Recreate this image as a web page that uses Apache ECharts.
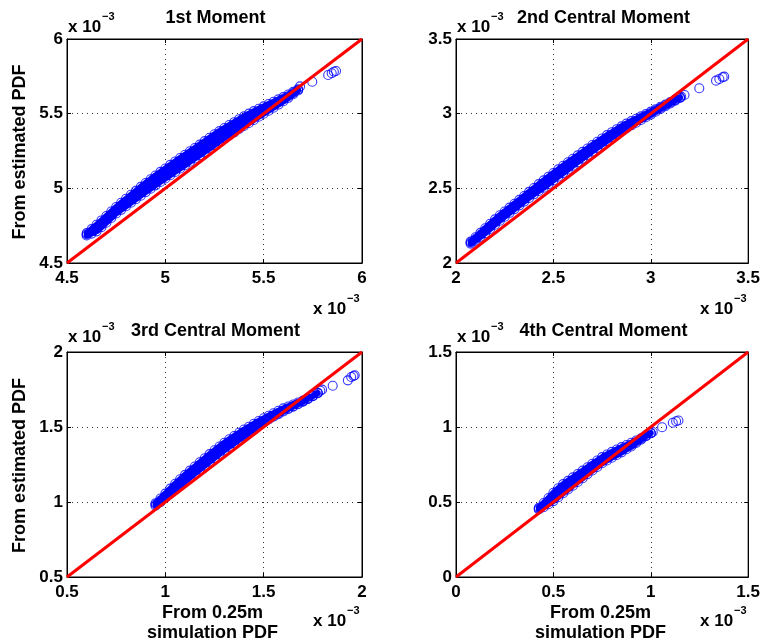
<!DOCTYPE html>
<html>
<head>
<meta charset="utf-8">
<script src="https://cdn.jsdelivr.net/npm/echarts@6/dist/echarts.min.js"></script>
<style>
  html, body { margin: 0; padding: 0; background: #fff; }
  #chart { width: 763px; height: 643px; }
</style>
</head>
<body>
<div id="chart"></div>
<script>
// Moment estimates, all in units of 1e-3 (hence the "x 10^-3" multipliers).
// x = moment from the 0.25m simulation PDF, y = moment from the estimated PDF.
// Each dense cloud is stored as its upper, middle and lower rows at common x stations,
// plus the few isolated points past the end of the cloud.

const panelTitles = ['1st Moment', '2nd Central Moment', '3rd Central Moment', '4th Central Moment'];
const axisRanges = [[4.5, 6], [2, 3.5], [0.5, 2], [0, 1.5]];
const tickStep = 0.5;

// ---- 1st moment ----
const m1X = [4.600,4.625,4.650,4.675,4.700,4.725,4.750,4.775,4.800,4.825,4.850,4.875,4.900,4.925,4.950,4.975,5.000,5.025,5.050,5.075,5.100,5.125,5.150,5.175,5.200,5.225,5.250,5.275,5.300,5.325,5.350,5.375,5.400,5.425,5.450,5.475,5.500,5.525,5.550,5.575,5.600,5.625,5.650,5.675];
const m1Top = [4.700,4.727,4.756,4.785,4.815,4.845,4.875,4.903,4.930,4.957,4.983,5.010,5.036,5.061,5.086,5.110,5.133,5.157,5.180,5.203,5.225,5.248,5.270,5.293,5.316,5.339,5.362,5.383,5.404,5.424,5.443,5.463,5.482,5.500,5.517,5.533,5.549,5.565,5.580,5.596,5.611,5.628,5.646,5.664];
const m1Mid = [4.692,4.711,4.731,4.759,4.788,4.818,4.849,4.875,4.900,4.926,4.950,4.976,5.000,5.025,5.048,5.072,5.095,5.118,5.140,5.163,5.185,5.208,5.230,5.253,5.275,5.298,5.321,5.343,5.365,5.385,5.404,5.425,5.445,5.465,5.484,5.503,5.522,5.540,5.558,5.577,5.596,5.617,5.638,5.660];
const m1Bot = [4.684,4.697,4.712,4.740,4.770,4.801,4.832,4.856,4.880,4.904,4.927,4.951,4.975,4.998,5.020,5.043,5.066,5.088,5.110,5.133,5.155,5.178,5.200,5.222,5.244,5.267,5.290,5.313,5.336,5.356,5.375,5.397,5.418,5.438,5.458,5.479,5.500,5.520,5.540,5.561,5.583,5.606,5.630,5.655];
const m1Tail = [[5.685,5.683],[5.747,5.714],[5.828,5.759],[5.846,5.771],[5.857,5.781],[5.868,5.786]];

// ---- 2nd central moment ----
const m2X = [2.075,2.100,2.125,2.150,2.175,2.200,2.225,2.250,2.275,2.300,2.325,2.350,2.375,2.400,2.425,2.450,2.475,2.500,2.525,2.550,2.575,2.600,2.625,2.650,2.675,2.700,2.725,2.750,2.775,2.800,2.825,2.850,2.875,2.900,2.925,2.950,2.975,3.000,3.025,3.050,3.075,3.100,3.125,3.150];
const m2Top = [2.143,2.172,2.202,2.233,2.263,2.292,2.320,2.345,2.371,2.397,2.423,2.449,2.476,2.502,2.528,2.553,2.578,2.603,2.627,2.651,2.675,2.698,2.721,2.744,2.767,2.790,2.812,2.834,2.856,2.876,2.896,2.915,2.933,2.950,2.966,2.982,2.998,3.014,3.030,3.046,3.061,3.078,3.095,3.110];
const m2Mid = [2.137,2.161,2.189,2.217,2.246,2.274,2.302,2.328,2.354,2.379,2.405,2.430,2.456,2.481,2.505,2.529,2.553,2.578,2.603,2.627,2.651,2.675,2.698,2.722,2.745,2.769,2.792,2.814,2.837,2.858,2.879,2.900,2.918,2.936,2.953,2.970,2.987,3.004,3.022,3.039,3.056,3.073,3.091,3.108];
const m2Bot = [2.130,2.150,2.175,2.200,2.228,2.256,2.283,2.310,2.336,2.361,2.386,2.411,2.436,2.460,2.482,2.504,2.528,2.553,2.578,2.602,2.626,2.651,2.675,2.699,2.723,2.747,2.771,2.794,2.817,2.840,2.862,2.884,2.903,2.922,2.940,2.958,2.976,2.994,3.013,3.032,3.050,3.068,3.087,3.105];
const m2Tail = [[3.156,3.114],[3.173,3.125],[3.249,3.170],[3.335,3.221],[3.352,3.232],[3.369,3.244],[3.377,3.248]];

// ---- 3rd central moment ----
const m3X = [0.950,0.975,1.000,1.025,1.050,1.075,1.100,1.125,1.150,1.175,1.200,1.225,1.250,1.275,1.300,1.325,1.350,1.375,1.400,1.425,1.450,1.475,1.500,1.525,1.550,1.575,1.600,1.625,1.650,1.675,1.700,1.725,1.750,1.775];
const m3Top = [0.992,1.023,1.056,1.089,1.122,1.152,1.181,1.209,1.237,1.265,1.292,1.319,1.345,1.370,1.395,1.418,1.440,1.462,1.483,1.502,1.522,1.540,1.558,1.575,1.592,1.608,1.624,1.637,1.650,1.663,1.676,1.691,1.708,1.728];
const m3Mid = [0.984,1.009,1.039,1.068,1.096,1.124,1.152,1.180,1.208,1.235,1.261,1.288,1.314,1.339,1.364,1.388,1.410,1.432,1.454,1.475,1.496,1.518,1.538,1.557,1.574,1.591,1.608,1.624,1.639,1.655,1.671,1.688,1.707,1.727];
const m3Bot = [0.975,0.998,1.028,1.056,1.082,1.108,1.135,1.163,1.190,1.216,1.242,1.268,1.294,1.320,1.345,1.369,1.391,1.414,1.437,1.460,1.482,1.508,1.530,1.550,1.568,1.585,1.603,1.620,1.636,1.652,1.669,1.687,1.706,1.726];
const m3Tail = [[1.788,1.742],[1.797,1.749],[1.851,1.775],[1.928,1.811],[1.945,1.833],[1.957,1.840],[1.963,1.845]];

// ---- 4th central moment ----
const m4X = [0.425,0.450,0.475,0.500,0.525,0.550,0.575,0.600,0.625,0.650,0.675,0.700,0.725,0.750,0.775,0.800,0.825,0.850,0.875,0.900,0.925,0.950,0.975,1.000];
const m4Top = [0.462,0.493,0.527,0.562,0.592,0.619,0.641,0.664,0.687,0.709,0.732,0.755,0.777,0.799,0.817,0.834,0.850,0.866,0.880,0.895,0.910,0.925,0.943,0.960];
const m4Mid = [0.456,0.478,0.503,0.530,0.558,0.584,0.608,0.632,0.656,0.679,0.705,0.728,0.751,0.774,0.793,0.810,0.827,0.844,0.863,0.880,0.900,0.920,0.941,0.959];
const m4Bot = [0.450,0.465,0.485,0.506,0.532,0.558,0.583,0.609,0.634,0.658,0.686,0.710,0.734,0.758,0.777,0.795,0.813,0.831,0.852,0.870,0.893,0.915,0.938,0.958];
const m4Tail = [[1.010,0.967],[1.058,0.998],[1.113,1.028],[1.130,1.038],[1.142,1.043]];

const panels = [
  { x: m1X, top: m1Top, mid: m1Mid, bot: m1Bot, tail: m1Tail },
  { x: m2X, top: m2Top, mid: m2Mid, bot: m2Bot, tail: m2Tail },
  { x: m3X, top: m3Top, mid: m3Mid, bot: m3Bot, tail: m3Tail },
  { x: m4X, top: m4Top, mid: m4Mid, bot: m4Bot, tail: m4Tail }
];

// ---- layout ----
const plotBoxes = [
  { left: 67,  top: 39,  width: 295, height: 224 },
  { left: 456, top: 39,  width: 293, height: 224 },
  { left: 67,  top: 352, width: 295, height: 225 },
  { left: 456, top: 352, width: 293, height: 225 }
];
const FONT = '"Liberation Sans", Arial, Helvetica, sans-serif';
const BLUE = '#0000ff';
const MARKER = 9;
const tickLabel = { color: '#000', fontFamily: FONT, fontWeight: 'bold', fontSize: 17 };
const black = { color: '#000', width: 1 };

const option = {
  animation: false,
  backgroundColor: '#fff',
  grid: [], xAxis: [], yAxis: [], series: [], graphic: []
};

panels.forEach((p, i) => {
  const box = plotBoxes[i];
  const [lo, hi] = axisRanges[i];
  option.grid.push(Object.assign({ show: true, borderColor: '#000', borderWidth: 1, backgroundColor: '#fff', containLabel: false }, box));

  const base = { type: 'value', gridIndex: i, min: lo, max: hi, interval: tickStep };
  const gridLines = { show: true, lineStyle: { color: '#333', width: 1, type: [1, 4] } };
  const ticks = { show: true, inside: true, length: 4, lineStyle: black };

  option.xAxis.push(Object.assign({}, base, {
    position: 'bottom',
    axisLine: { show: true, onZero: false, lineStyle: black },
    axisTick: ticks,
    axisLabel: Object.assign({ margin: 7 }, tickLabel),
    splitLine: gridLines
  }));
  option.xAxis.push(Object.assign({}, base, {
    position: 'top',
    axisLine: { show: true, onZero: false, lineStyle: black },
    axisTick: ticks, axisLabel: { show: false }, splitLine: { show: false }
  }));
  option.yAxis.push(Object.assign({}, base, {
    position: 'left',
    axisLine: { show: true, onZero: false, lineStyle: black },
    axisTick: ticks,
    axisLabel: Object.assign({ margin: 4 }, tickLabel),
    splitLine: gridLines
  }));
  option.yAxis.push(Object.assign({}, base, {
    position: 'right',
    axisLine: { show: true, onZero: false, lineStyle: black },
    axisTick: ticks, axisLabel: { show: false }, splitLine: { show: false }
  }));

  // the overlapping markers of the dense part merge into a solid band:
  // fill the region between the upper and lower rows (stroke covers the marker radius)
  option.series.push({
    type: 'custom', coordinateSystem: 'cartesian2d', xAxisIndex: 2 * i, yAxisIndex: 2 * i,
    data: [[p.x[0], p.mid[0]]], silent: true, z: 1,
    renderItem: (params, api) => {
      const pts = [];
      for (let k = 0; k < p.x.length; k++) pts.push(api.coord([p.x[k], p.top[k]]));
      for (let k = p.x.length - 1; k >= 0; k--) pts.push(api.coord([p.x[k], p.bot[k]]));
      return { type: 'polygon', shape: { points: pts },
        style: { fill: BLUE, stroke: BLUE, lineWidth: 6, lineJoin: 'round' } };
    }
  });

  // open blue circles
  const pts = [];
  [p.top, p.mid, p.bot].forEach(row => row.forEach((y, k) => pts.push([p.x[k], y])));
  p.tail.forEach(pt => pts.push(pt));
  option.series.push({
    type: 'scatter', xAxisIndex: 2 * i, yAxisIndex: 2 * i,
    data: pts, symbol: 'circle', symbolSize: MARKER, silent: true,
    itemStyle: { color: 'rgba(0,0,0,0)', borderColor: BLUE, borderWidth: 1.1 },
    emphasis: { disabled: true }, z: 2
  });
  // y = x reference line
  option.series.push({
    type: 'line', xAxisIndex: 2 * i, yAxisIndex: 2 * i,
    data: [[lo, lo], [hi, hi]], symbol: 'none', silent: true,
    lineStyle: { color: '#ff0000', width: 3 }, z: 3
  });

  const right = box.left + box.width;
  const bottom = box.top + box.height;
  const cx = box.left + box.width / 2;
  const row2 = i >= 2;

  // panel title
  option.graphic.push({ type: 'text', x: cx + 1, y: box.top - 21, silent: true,
    style: { text: panelTitles[i], fill: '#000', font: 'bold 18px ' + FONT, align: 'center', verticalAlign: 'middle' } });
  // axis multipliers (top-left for y, bottom-right for x)
  const yMulY = box.top - (row2 ? 15 : 12);
  option.graphic.push({ type: 'text', x: box.left + 1, y: yMulY, silent: true,
    style: { text: 'x 10', fill: '#000', font: 'bold 17px ' + FONT, align: 'left', verticalAlign: 'middle' } });
  option.graphic.push({ type: 'text', x: box.left + 35, y: yMulY - 10, silent: true,
    style: { text: '\u22123', fill: '#000', font: 'bold 11px ' + FONT, align: 'left', verticalAlign: 'middle' } });
  const xMulY = bottom + (row2 ? 44 : 46);
  option.graphic.push({ type: 'text', x: right - 49, y: xMulY, silent: true,
    style: { text: 'x 10', fill: '#000', font: 'bold 17px ' + FONT, align: 'left', verticalAlign: 'middle' } });
  option.graphic.push({ type: 'text', x: right - 15, y: xMulY - 10, silent: true,
    style: { text: '\u22123', fill: '#000', font: 'bold 11px ' + FONT, align: 'left', verticalAlign: 'middle' } });

  // axis names on the outer panels
  if (i % 2 === 0) {
    option.graphic.push({ type: 'text', x: 20, y: box.top + box.height / 2 + 1, rotation: Math.PI / 2, silent: true,
      style: { text: 'From estimated PDF', fill: '#000', font: 'bold 18px ' + FONT, align: 'center', verticalAlign: 'middle' } });
  }
  if (row2) {
    option.graphic.push({ type: 'text', x: cx - 2, y: bottom + 36, silent: true,
      style: { text: 'From 0.25m', fill: '#000', font: 'bold 18px ' + FONT, align: 'center', verticalAlign: 'middle' } });
    option.graphic.push({ type: 'text', x: cx - 2, y: bottom + 56, silent: true,
      style: { text: 'simulation PDF', fill: '#000', font: 'bold 18px ' + FONT, align: 'center', verticalAlign: 'middle' } });
  }
});

const chart = echarts.init(document.getElementById('chart'), null, { renderer: 'canvas' });
chart.setOption(option);
</script>
</body>
</html>
